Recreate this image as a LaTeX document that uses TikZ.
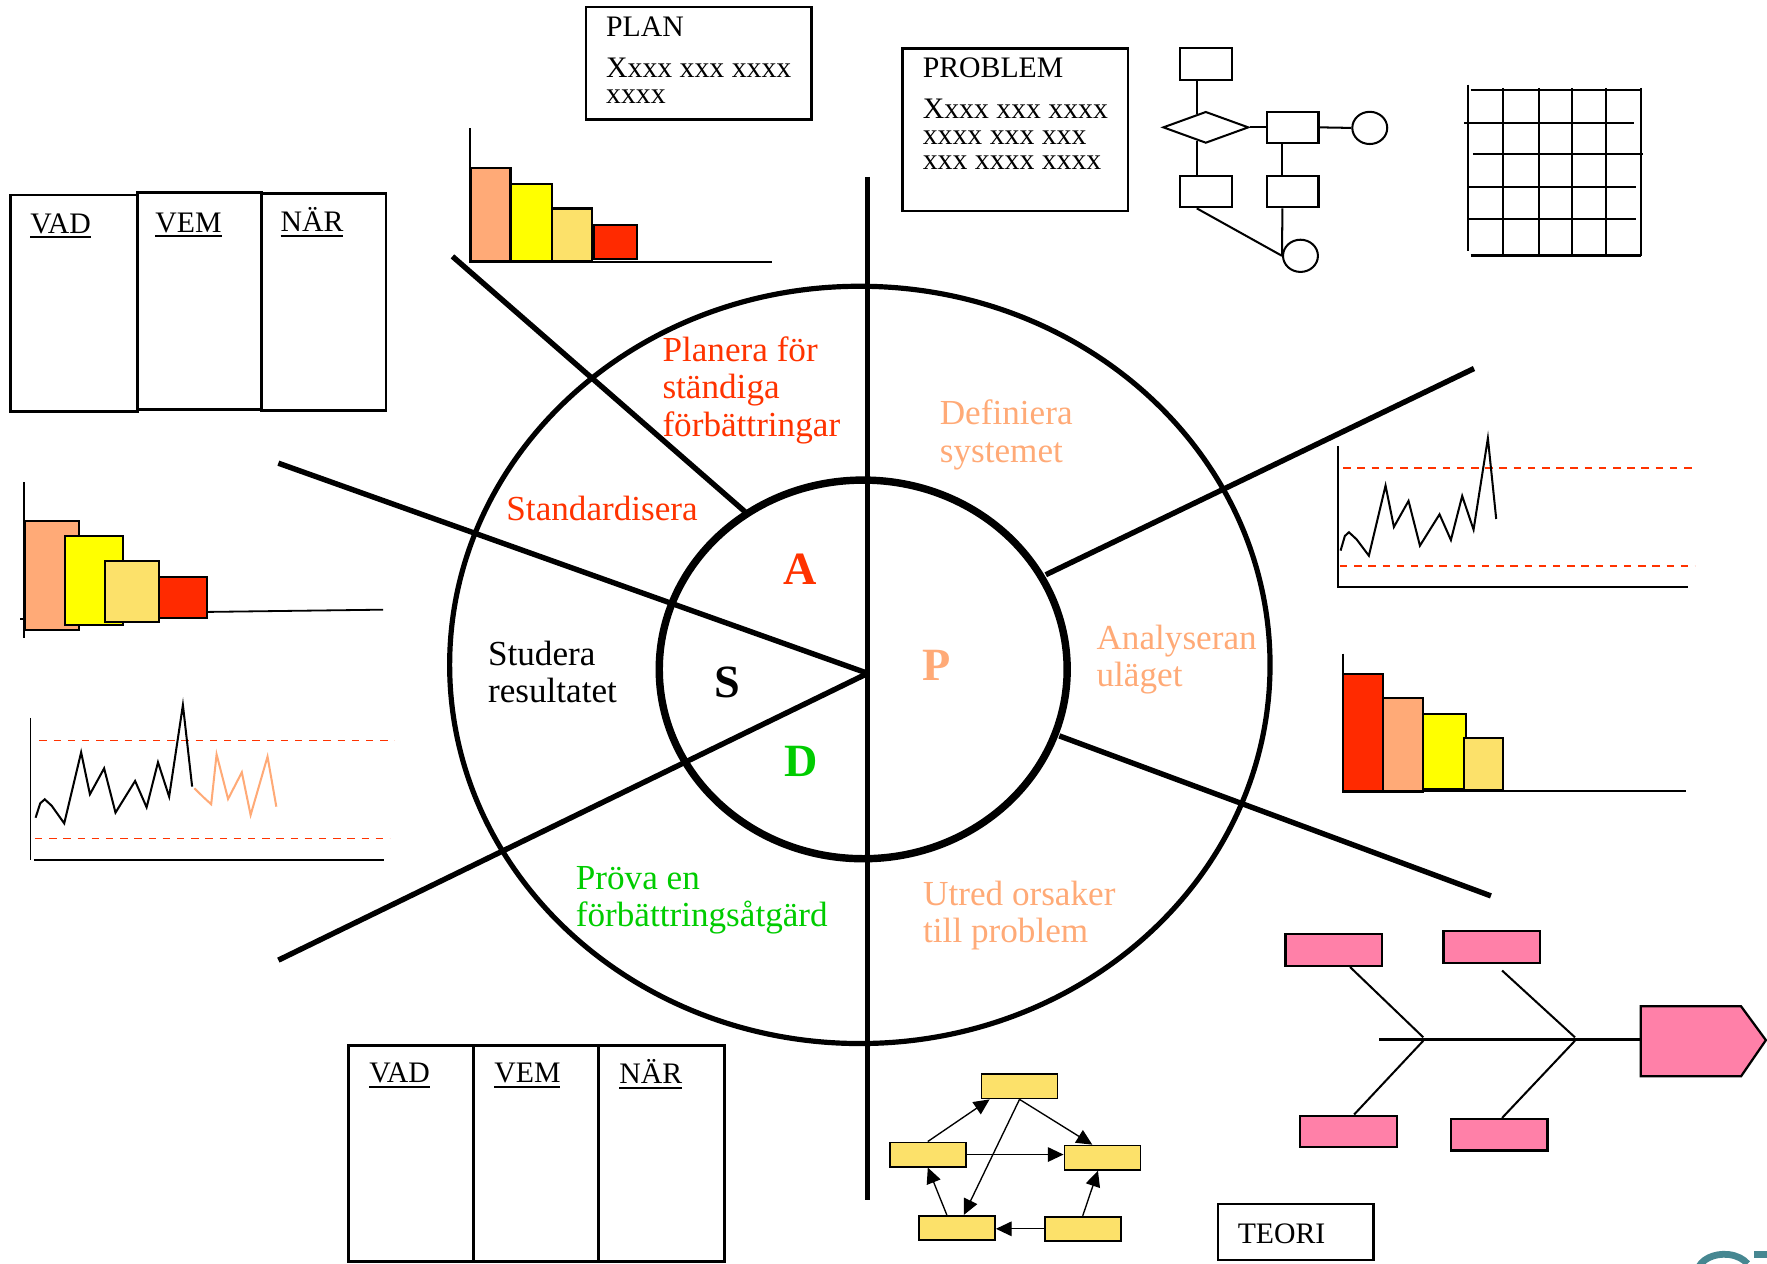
\documentclass[tikz,border=0pt]{standalone}
\usepackage{fontspec}
\setmainfont{Liberation Serif}
\usetikzlibrary{arrows.meta,shapes.geometric,calc}
\definecolor{cred}{RGB}{255,51,0}
\definecolor{csal}{RGB}{255,170,119}
\definecolor{cgreen}{RGB}{0,204,0}
\definecolor{cyel}{RGB}{255,255,0}
\definecolor{cly}{RGB}{252,225,106}
\definecolor{cbarred}{RGB}{255,42,0}
\definecolor{cpink}{RGB}{255,128,168}
\definecolor{cteal}{RGB}{70,135,145}
\newcommand\ml[1]{\begin{tabular}[t]{@{}l@{}}#1\end{tabular}}
\newsavebox\ulbox
\newcommand\myul[1]{\sbox\ulbox{#1}\rlap{\rule[-2.3pt]{\wd\ulbox}{0.9pt}}\usebox\ulbox}
\begin{document}
\begin{tikzpicture}[x=0.5pt,y=-0.5pt,
  lbl/.style={inner sep=0pt, anchor=base west, font=\fontsize{15.6}{16.5}\selectfont},
  btxt/.style={inner sep=0pt, anchor=base west, font=\fontsize{13.2}{11.4}\selectfont},
  big/.style={inner sep=0pt, anchor=base west, font=\fontsize{20.5}{22}\selectfont\bfseries},
  frame/.style={draw, line width=1.1pt},
  vbox/.style={draw, line width=1.3pt},
  spoke/.style={line width=2.4pt},
  bar/.style={draw, line width=0.9pt},
  axis/.style={line width=0.8pt},
  limit/.style={draw=cred, line width=0.8pt, dash pattern=on 3.3pt off 3pt},
  trace/.style={line width=0.9pt, line join=miter},
  ybox/.style={draw, fill=cly, line width=0.8pt, minimum width=33.75pt, minimum height=10.75pt, inner sep=0pt},
  pbox/.style={draw, fill=cpink, line width=1pt, minimum width=42.8pt, minimum height=14pt, inner sep=0pt},
  fbox/.style={draw, line width=0.9pt, minimum width=23pt, minimum height=14pt, inner sep=0pt},
  fcirc/.style={draw, ellipse, line width=0.9pt, minimum width=15.5pt, minimum height=14.3pt, inner sep=0pt},
  arr/.style={-{Triangle[length=7pt,width=6.5pt]}, line width=0.6pt},
  bone/.style={line width=0.9pt}]
\useasboundingbox (0,0) rectangle (1568,1121);

% ---------- central wheel ----------
\draw[line width=2.3pt] (763,590) ellipse [x radius=364, y radius=336];
\draw[line width=3.3pt] (766,594) ellipse [x radius=181, y radius=168];
\coordinate (vtop) at (770,157);
\coordinate (vbot) at (770,1065);
\draw[line width=2.2pt] (vtop) -- (vbot);
\coordinate (ctr) at (770,597.5);
\coordinate (s1a) at (401.5,227.5); \coordinate (s1b) at (661,454);
\coordinate (s2a) at (247,411);
\coordinate (s3a) at (247,852);
\coordinate (s4a) at (1308,327); \coordinate (s4b) at (928,510);
\coordinate (s5a) at (1323,795); \coordinate (s5b) at (940,653);
\draw[spoke] (s1a) -- (s1b);
\draw[spoke] (s2a) -- (ctr);
\draw[spoke] (s3a) -- (ctr);
\draw[spoke] (s4a) -- (s4b);
\draw[spoke] (s5a) -- (s5b);

\node[lbl, text=cred] (t1) at (587.5,321) {\ml{Planera för\\ständiga\\förbättringar}};
\node[lbl, text=csal] (t2) at (833.6,377) {\ml{Definiera\\systemet}};
\node[lbl, text=cred] (t3) at (449,462.3) {Standardisera};
\node[lbl] (t4) at (432.7,590.6) {\ml{Studera\\resultatet}};
\node[lbl, text=csal] (t5) at (972.7,575.9) {\ml{Analyseran\\uläget}};
\node[lbl, text=cgreen] (t6) at (510.6,789) {\ml{Pröva en\\förbättringsåtgärd}};
\node[lbl, text=csal] (t7) at (818.8,803.6) {\ml{Utred orsaker\\till problem}};
\node[big, text=cred] (lA) at (695,519) {A};
\node[big] (lS) at (634,619) {S};
\node[big, text=csal] (lP) at (818.3,604) {P};
\node[big, text=cgreen] (lD) at (695.5,689.2) {D};

% ---------- PLAN / PROBLEM ----------
\draw[frame] (520,6) rectangle (720,106);
\node[btxt] (planh) at (537.5,32) {PLAN};
\node[btxt] (plant) at (537.5,68.6) {\ml{Xxxx xxx xxxx\\xxxx}};
\draw[frame] (801,43) rectangle (1001,187);
\node[btxt] (probh) at (818.5,68.6) {PROBLEM};
\node[btxt] (probt) at (818.5,105) {\ml{Xxxx xxx xxxx\\xxxx xxx xxx\\xxx xxxx xxxx}};

% ---------- flowchart ----------
\node[fbox] (fa) at (1070,57) {};
\node[draw, diamond, line width=0.9pt, minimum width=38pt, minimum height=14pt, inner sep=0pt] (fd) at (1070,113) {};
\node[fbox] (fb) at (1147,113) {};
\node[fbox] (fc) at (1070,170) {};
\node[fbox] (fe) at (1147,170) {};
\node[fcirc] (fo1) at (1215.5,113.5) {};
\node[fcirc] (fo2) at (1154,227) {};
\draw[line width=0.9pt] ([xshift=-4pt]fa.south) -- ([xshift=-4pt,yshift=-1.5pt]fd.north);
\draw[line width=0.9pt] ([xshift=-4pt,yshift=1.5pt]fd.south) -- ([xshift=-4pt]fc.north);
\draw[line width=0.9pt] (fd.east) -- (fb.west);
\draw[line width=0.9pt] (fb.east) -- (fo1.west);
\draw[line width=0.9pt] ([xshift=-4.5pt]fb.south) -- ([xshift=-4.5pt]fe.north);
\draw[line width=0.9pt] ([xshift=-4.5pt]fe.south) -- (fo2.west);
\draw[line width=0.9pt] ([xshift=-4pt]fc.south) -- (fo2.west);

% ---------- grid ----------
\begin{scope}[line width=0.9pt]
\draw (1303,75) -- (1303,223);
\foreach \gx in {1334,1366,1395,1425} \draw (\gx,78) -- (\gx,227);
\draw (1456,78) -- (1456,227);
\draw (1305,80) -- (1456,80);
\draw (1299,109) -- (1450,109);
\draw (1307,137) -- (1458,137);
\draw (1303,166) -- (1452,166);
\draw (1303,194) -- (1452,194);
\draw[line width=1.2pt] (1305,227) -- (1456,227);
\end{scope}

% ---------- VAD VEM NAR (top) ----------
\draw[vbox] (9.5,173) rectangle (122,365);
\draw[vbox] (122,171) rectangle (232,363);
\draw[vbox] (232,172) rectangle (342.5,364);
\node[btxt] (v1) at (26.5,207) {\myul{VAD}};
\node[btxt] (v2) at (137.5,206) {\myul{VEM}};
\node[btxt] (v3) at (248.6,205.6) {\myul{NÄR}};

% ---------- VAD VEM NAR (bottom) ----------
\draw[vbox] (309.4,927.5) rectangle (420.5,1119);
\draw[vbox] (420.5,928) rectangle (531.5,1119);
\draw[vbox] (531.5,928) rectangle (642.6,1119);
\node[btxt] (w1) at (327.3,961) {\myul{VAD}};
\node[btxt] (w2) at (438.3,961) {\myul{VEM}};
\node[btxt] (w3) at (549.3,961.5) {\myul{NÄR}};

% ---------- top bar chart ----------
\draw[bar, fill=csal] (418,149) rectangle (453,232);
\draw[bar, fill=cyel] (453,163) rectangle (490,232);
\draw[bar, fill=cly] (490,185) rectangle (525,232);
\draw[bar, fill=cbarred] (527,200) rectangle (565,230);
\draw[axis] (417,114) -- (417,233);
\draw[axis] (417,232.5) -- (685,232.5);

% ---------- left bar chart ----------
\draw[bar, fill=csal] (22,462) rectangle (70,559);
\draw[bar, fill=cyel] (58,476) rectangle (109,555);
\draw[bar, fill=cly] (93,498) rectangle (141,552);
\draw[bar, fill=cbarred] (141,512) rectangle (184,548);
\draw[axis] (21,428) -- (21,566);
\draw[axis] (18,549) -- (22,549);
\draw[axis] (184,543) -- (340,541);

% ---------- left control chart ----------
\draw[axis] (27,637) -- (27,763);
\draw[axis] (30,763) -- (341,763);
\draw[limit] (35,657) -- (350,657);
\draw[limit] (31,744) -- (346,744);
\draw[trace] (31.6,725.6) -- (35.7,712.8) -- (39.7,709.3) -- (45.8,714.9) -- (57,730.6) -- (72,667.6) -- (79.8,704.8) -- (92.4,681.8) -- (102.5,721.1) -- (119.9,693) -- (130.1,716.4) -- (140.2,676.4) -- (150.1,706.9) -- (162.3,625.6) -- (170.5,698);
\draw[trace, csal] (172.5,699.5) -- (180,706.9) -- (187.4,713.7) -- (192.2,669.4) -- (202.4,709) -- (214.6,685.3) -- (222.4,723.2) -- (237.4,671.4) -- (245.2,715.8);

% ---------- right control chart ----------
\draw[axis] (1187,396) -- (1187,521) -- (1498,521);
\draw[limit] (1192,415) -- (1506,415);
\draw[limit] (1189,502) -- (1504,502);
\draw[trace] (1189.6,488.6) -- (1193.4,475.6) -- (1197,472.3) -- (1203.8,478.6) -- (1214.7,493.1) -- (1229.5,430.9) -- (1236.9,467.6) -- (1249.9,444.5) -- (1260,484.2) -- (1277.4,456.4) -- (1287.5,479.2) -- (1297.5,440.1) -- (1307.6,470) -- (1320.3,388.9) -- (1327.7,460.5);

% ---------- right bar chart ----------
\draw[bar, fill=cbarred] (1192,598) rectangle (1227.5,702.5);
\draw[bar, fill=csal] (1227.5,619) rectangle (1263,702.5);
\draw[bar, fill=cyel] (1263,633.5) rectangle (1300.5,700.5);
\draw[bar, fill=cly] (1299,655) rectangle (1334,701);
\draw[axis] (1192,580) -- (1192,702);
\draw[axis] (1192,702) -- (1496,702);

% ---------- fishbone ----------
\node[pbox] (pk1) at (1183.6,843.1) {};
\node[pbox] (pk2) at (1323.7,840.2) {};
\node[pbox] (pk3) at (1196.6,1004) {};
\node[pbox] (pk4) at (1330.5,1007) {};
\coordinate (spl) at (1224,922.5);
\coordinate (head) at (1456,922.5);
\coordinate (j1) at (1263,920.5);
\coordinate (j2) at (1397.6,920.5);
\draw[fill=cpink, line width=1pt] (1456,893) -- (1545,893) -- (1567,923) -- (1545,955) -- (1456,955) -- cycle;
\draw[line width=1.1pt] (spl) -- (head);
\draw[bone] ([xshift=7.2pt]pk1.south) -- (j1);
\draw[bone] ([yshift=-1.5pt]j1) -- ([xshift=2.5pt]pk3.north);
\draw[bone] ([xshift=4.6pt,yshift=-3pt]pk2.south) -- (j2);
\draw[bone] ([yshift=-1.5pt]j2) -- ([xshift=1.2pt]pk4.north);

% ---------- network ----------
\node[ybox] (y1) at (904.7,964) {};
\node[ybox] (y2) at (823.3,1024.5) {};
\node[ybox] (y3) at (978.3,1027.3) {};
\node[ybox] (y4) at (849.2,1089.7) {};
\node[ybox] (y5) at (960.8,1090.4) {};
\draw[arr] (y2.north) -- ([xshift=4pt]y1.south west);
\draw[arr] (y1.south) -- ([xshift=-4.5pt]y3.north);
\draw[arr] (y1.south) -- ([xshift=3pt]y4.north);
\draw[arr] (y2.east) -- (y2.east -| y3.west);
\draw[arr] ([xshift=-4.5pt]y4.north) -- (y2.south);
\draw[arr] (y5.north) -- ([xshift=-2pt]y3.south);
\draw[arr] (y5.west) -- (y5.west -| y4.east);

% ---------- TEORI ----------
\draw[frame] (1081,1068.5) rectangle (1219,1118);
\node[btxt] (teori) at (1098,1103) {TEORI};

% ---------- logo fragment ----------
\draw[cteal, line width=3pt] (1530,1130) ++(190:24 and 17) arc[start angle=190, end angle=330, x radius=24, y radius=17];
\fill[cteal] (1556,1110) rectangle (1568,1116);
\end{tikzpicture}
\end{document}
